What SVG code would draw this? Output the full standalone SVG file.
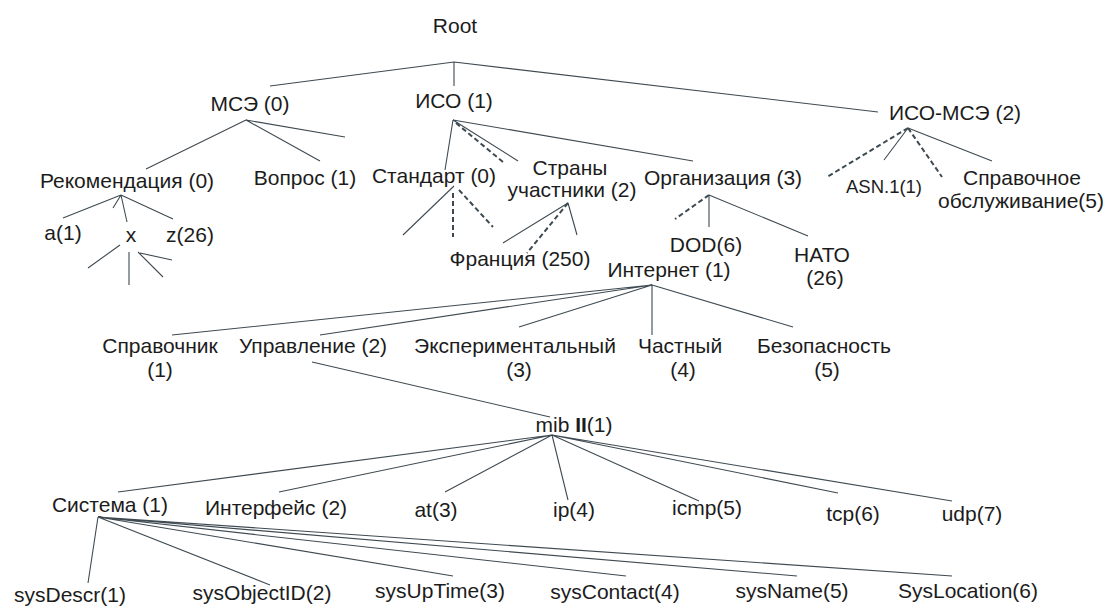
<svg xmlns="http://www.w3.org/2000/svg" width="1108" height="610" viewBox="0 0 1108 610">
<style>
text{font-family:"Liberation Sans",Arial,sans-serif;font-size:21px;fill:#1c1c1c;text-anchor:middle}
.s{fill:none;stroke:#3e4a52;stroke-width:1.1}
.d{fill:none;stroke:#3e4a52;stroke-width:2;stroke-dasharray:5,3}
</style>
<rect width="1108" height="610" fill="#ffffff"/>
<g id="connectors">
<path class="s" d="M454,62L270,86M454,62L454,86M454,62L878,112"/>
<path class="s" d="M246,120L146,169M246,120L320,161M246,120L345,137"/>
<path class="s" d="M121,195L63,218M121,195L113,208M121,195L127,222M121,195L173,219"/>
<path class="s" d="M120,245L88,268M129,252L129,285M138,252L163,277M140,253L172,260"/>
<path class="s" d="M453,120L445,170M453,120L518,161M453,120L693,161"/>
<path class="d" d="M456,123L503,162"/>
<path class="s" d="M454,186L403,235"/>
<path class="d" d="M453,193L453,237M459,190L493,227"/>
<path class="s" d="M568,203L503,243M568,203L577,235"/>
<path class="d" d="M568,203L527,253"/>
<path class="s" d="M709,195L709,227M709,195L808,236"/>
<path class="d" d="M709,195L675,219"/>
<path class="s" d="M908,128L884,160M908,128L992,161"/>
<path class="d" d="M908,128L827,177M908,128L942,177"/>
<path class="s" d="M652,285L172,335M652,285L320,335M652,285L519,327M652,285L652,335M652,285L793,327"/>
<path class="s" d="M312,362L550,417"/>
<path class="s" d="M552,435L118,492M552,435L279,492M552,435L445,492M552,435L568,500M552,435L699,501M552,435L838,493M552,435L952,501"/>
<path class="s" d="M98,517L88,583M98,517L270,585M98,517L453,576M98,517L626,576M98,517L797,576M98,517L952,576"/>
</g>
<g id="root"><text x="455" y="33">Root</text></g>
<g id="mse"><text x="250" y="111">МСЭ (0)</text></g>
<g id="iso"><text x="454" y="108">ИСО (1)</text></g>
<g id="iso-mse"><text x="955" y="120">ИСО-МСЭ (2)</text></g>
<g id="rekomendatsiya"><text x="127" y="188">Рекомендация (0)</text></g>
<g id="vopros"><text x="305" y="185">Вопрос (1)</text></g>
<g id="a1"><text x="63" y="240">a(1)</text></g>
<g id="x"><text x="131" y="242">x</text></g>
<g id="z26"><text x="190" y="242">z(26)</text></g>
<g id="standart"><text x="434" y="183">Стандарт (0)</text></g>
<g id="strany"><text x="570" y="175">Страны</text><text x="572" y="197">участники (2)</text></g>
<g id="frantsiya"><text x="520" y="266">Франция (250)</text></g>
<g id="organizatsiya"><text x="723" y="185">Организация (3)</text></g>
<g id="dod"><text x="706" y="252">DOD(6)</text></g>
<g id="nato"><text x="822" y="262">НАТО</text><text x="825" y="285">(26)</text></g>
<g id="asn1"><text x="884" y="193" style="font-size:18.5px">ASN.1(1)</text></g>
<g id="spravochnoe"><text x="1022" y="185">Справочное</text><text x="1021" y="208">обслуживание(5)</text></g>
<g id="internet"><text x="669" y="277">Интернет (1)</text></g>
<g id="spravochnik"><text x="160" y="353">Справочник</text><text x="160" y="377">(1)</text></g>
<g id="upravlenie"><text x="313" y="353">Управление (2)</text></g>
<g id="eksperimentalnyi"><text x="515" y="353">Экспериментальный</text><text x="519" y="377">(3)</text></g>
<g id="chastnyi"><text x="680" y="353">Частный</text><text x="683" y="377">(4)</text></g>
<g id="bezopasnost"><text x="824" y="353">Безопасность</text><text x="827" y="377">(5)</text></g>
<g id="mib2"><text x="574" y="432">mib <tspan font-weight="bold">II</tspan>(1)</text></g>
<g id="sistema"><text x="110" y="512">Система (1)</text></g>
<g id="interfeis"><text x="276" y="515">Интерфейс (2)</text></g>
<g id="at3"><text x="436" y="517">at(3)</text></g>
<g id="ip4"><text x="574" y="517">ip(4)</text></g>
<g id="icmp5"><text x="707" y="515">icmp(5)</text></g>
<g id="tcp6"><text x="853" y="521">tcp(6)</text></g>
<g id="udp7"><text x="972" y="521">udp(7)</text></g>
<g id="sysDescr"><text x="70" y="602">sysDescr(1)</text></g>
<g id="sysObjectID"><text x="262" y="600">sysObjectID(2)</text></g>
<g id="sysUpTime"><text x="440" y="598">sysUpTime(3)</text></g>
<g id="sysContact"><text x="615" y="599">sysContact(4)</text></g>
<g id="sysName"><text x="792" y="598">sysName(5)</text></g>
<g id="sysLocation"><text x="968" y="598">SysLocation(6)</text></g>
</svg>
